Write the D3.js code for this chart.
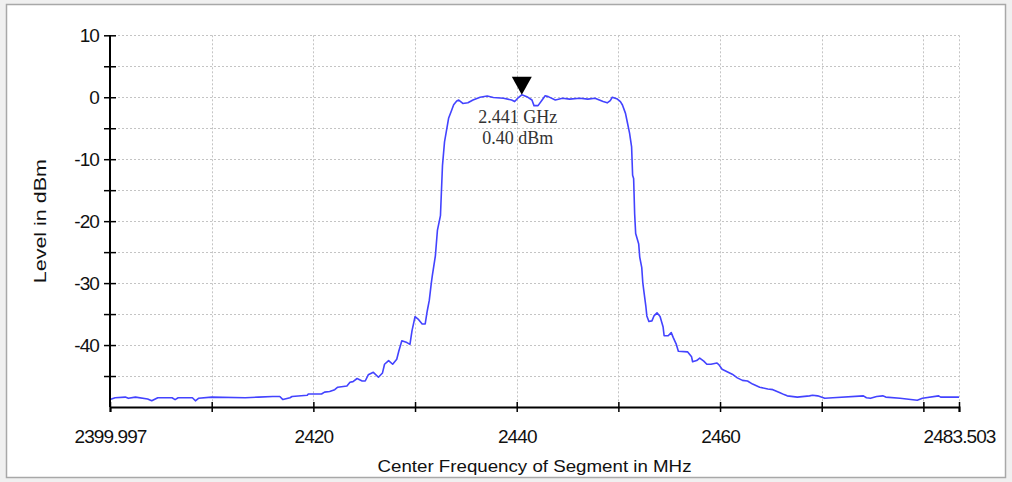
<!DOCTYPE html>
<html>
<head>
<meta charset="utf-8">
<script src="https://cdn.jsdelivr.net/npm/d3@7"></script>
<style>
  body { margin: 0; background: #f0f0f0; }
  svg { display: block; }
</style>
</head>
<body>
<svg id="chart" width="1012" height="482"></svg>
<script>
// spectrum trace (MHz, dBm)
const freqs = [
  2400.0, 2400.5, 2401.5, 2401.8, 2402.5, 2403.7, 2404.1, 2404.7, 2406.1, 2406.4,
  2406.7, 2408.1, 2408.4, 2408.7, 2410.0, 2413.3, 2414.6, 2416.0, 2416.7, 2417.0,
  2417.7, 2417.9, 2419.4, 2419.5, 2420.8, 2421.1, 2421.6, 2422.1, 2422.4, 2423.3,
  2423.6, 2423.9, 2424.3, 2424.8, 2425.1, 2425.4, 2425.9, 2426.4, 2426.8, 2427.0,
  2427.4, 2427.8, 2428.2, 2428.4, 2428.7, 2429.2, 2429.5, 2429.7, 2430.0, 2430.3,
  2430.7, 2431.0, 2431.2, 2431.4, 2431.6, 2431.7, 2432.0, 2432.2, 2432.5, 2432.6,
  2432.7, 2432.9, 2433.1, 2433.3, 2433.6, 2433.8, 2434.1, 2434.3, 2434.7, 2435.2,
  2435.7, 2436.4, 2437.1, 2437.7, 2438.7, 2439.5, 2439.8, 2440.1, 2440.5, 2441.0,
  2441.5, 2441.7, 2442.1, 2442.5, 2442.8, 2443.1, 2443.8, 2444.5, 2445.2, 2446.2,
  2447.0, 2447.7, 2448.5, 2448.9, 2449.2, 2449.4, 2449.9, 2450.2, 2450.4, 2450.7,
  2450.9, 2451.1, 2451.3, 2451.4, 2451.5, 2451.6, 2451.7, 2452.0, 2452.1, 2452.3,
  2452.4, 2452.5, 2452.7, 2452.8, 2453.0, 2453.3, 2453.5, 2453.8, 2454.1, 2454.4,
  2454.5, 2454.9, 2455.2, 2455.4, 2455.7, 2455.9, 2456.8, 2457.2, 2457.3, 2457.7,
  2458.0, 2458.4, 2458.7, 2459.1, 2459.7, 2459.9, 2460.2, 2460.7, 2461.2, 2461.7,
  2462.2, 2462.7, 2463.2, 2463.9, 2464.7, 2465.2, 2465.9, 2466.3, 2466.6, 2467.6,
  2468.8, 2469.1, 2469.6, 2470.3, 2471.1, 2474.1, 2474.4, 2474.8, 2475.4, 2476.0,
  2476.3, 2477.7, 2479.4, 2479.9, 2481.5, 2481.7, 2483.5
];
const levels = [
  -48.8, -48.5, -48.4, -48.6, -48.4, -48.7, -49.0, -48.5, -48.5, -48.8,
  -48.5, -48.5, -49.0, -48.6, -48.4, -48.5, -48.4, -48.3, -48.3, -48.8,
  -48.5, -48.3, -48.1, -47.9, -47.9, -47.6, -47.5, -47.2, -46.8, -46.6,
  -46.0, -45.9, -45.4, -45.8, -45.8, -44.8, -44.4, -45.2, -44.5, -43.1,
  -42.5, -43.1, -42.3, -41.0, -39.3, -39.6, -39.9, -37.7, -35.4, -35.8,
  -36.6, -36.6, -34.5, -32.8, -30.0, -28.8, -25.6, -21.5, -19.1, -15.0,
  -11.0, -7.2, -5.3, -3.4, -2.1, -1.2, -0.6, -0.45, -1.0, -0.9,
  -0.45, 0.0, 0.2, -0.05, -0.15, -0.45, -0.7, -0.15, 0.4, 0.1,
  -0.45, -1.35, -1.35, -0.45, 0.25, 0.1, -0.45, -0.15, -0.3, -0.15,
  -0.3, -0.15, -0.7, -0.9, -0.55, 0.0, -0.3, -0.7, -1.25, -2.6,
  -4.2, -5.8, -8.0, -12.6, -13.1, -18.8, -22.0, -23.7, -25.8, -27.5,
  -29.9, -31.2, -33.7, -35.3, -36.2, -36.1, -35.3, -34.8, -35.4, -37.1,
  -38.5, -38.5, -38.0, -38.8, -39.9, -41.0, -41.1, -41.9, -42.7, -42.5,
  -42.1, -42.6, -43.1, -43.1, -42.9, -43.2, -43.9, -44.3, -44.7, -45.3,
  -45.7, -45.8, -46.3, -46.8, -47.1, -47.2, -47.7, -48.0, -48.2, -48.4,
  -48.2, -48.1, -48.2, -48.6, -48.5, -48.2, -48.5, -48.6, -48.3, -48.2,
  -48.4, -48.6, -48.9, -48.6, -48.2, -48.4, -48.4
];

// axis ticks
const xStart = 2399.997, xEnd = 2483.503;
const xTicks = [xStart, 2410, 2420, 2430, 2440, 2450, 2460, 2470, 2480, xEnd];
const xLabels = [xStart, 2420, 2440, 2460, xEnd];
const yTicks = [-45, -40, -35, -30, -25, -20, -15, -10, -5, 0, 5, 10];
const yLabels = [-40, -30, -20, -10, 0, 10];

// marker
const markerFreq = 2440.5, markerLevel = 0.40;
const markerText = ["2.441 GHz", "0.40 dBm"];

const svg = d3.select("#chart");
const sans = "Liberation Sans, Arial, sans-serif";

// outer frame
svg.append("rect")
  .attr("x", 6.5).attr("y", 4.5)
  .attr("width", 999).attr("height", 473)
  .attr("fill", "white")
  .attr("stroke", "#a8a8a8")
  .attr("stroke-width", 1.5);

const x = d3.scaleLinear().domain([xStart, xEnd]).range([110, 959]);
const y = d3.scaleLinear().domain([-50, 10]).range([407, 35.3]);

// grid
const grid = svg.append("g").attr("stroke", "#c4c4c4").attr("stroke-dasharray", "2,2").attr("stroke-width", 1);
grid.selectAll(".hg").data(yTicks).join("line")
  .attr("x1", x.range()[0]).attr("x2", x.range()[1])
  .attr("y1", d => Math.round(y(d)) + 0.5).attr("y2", d => Math.round(y(d)) + 0.5);
grid.selectAll(".vg").data(xTicks.slice(1)).join("line")
  .attr("x1", d => Math.round(x(d)) + 0.5).attr("x2", d => Math.round(x(d)) + 0.5)
  .attr("y1", y(10)).attr("y2", y(-50));

// trace
const data = freqs.map((f, i) => ({ f: f, v: levels[i] }));
const line = d3.line().x(d => x(d.f)).y(d => y(d.v));
svg.append("path")
  .datum(data)
  .attr("fill", "none")
  .attr("stroke", "#4343ff")
  .attr("stroke-width", 1.6)
  .attr("stroke-linejoin", "round")
  .attr("d", line);

// axes
const fmtX = d => (xLabels.includes(d) ? (d % 1 ? d3.format(".3f")(d) : d) : "");
const xAxis = svg.append("g")
  .attr("transform", `translate(0,${y(-50)})`)
  .call(d3.axisBottom(x).tickValues(xTicks).tickSizeOuter(0).tickSize(5).tickFormat(fmtX));
xAxis.selectAll(".tick line").attr("y1", -5).attr("y2", 5).attr("stroke-width", 1.5);
xAxis.select(".domain").attr("stroke-width", 2);
xAxis.selectAll("text")
  .attr("y", 23)
  .style("font-family", sans)
  .style("font-size", "19px")
  .style("letter-spacing", "-0.9px")
  .attr("fill", "#111");

const yAxis = svg.append("g")
  .attr("transform", `translate(${x(xStart)},0)`)
  .call(d3.axisLeft(y).tickValues(yTicks).tickSizeOuter(0).tickSize(5).tickFormat(d => (yLabels.includes(d) ? d : "")));
yAxis.selectAll(".tick line").attr("x1", -6).attr("x2", 6).attr("stroke-width", 1.5);
yAxis.select(".domain").attr("stroke-width", 2).attr("d", `M0,${y(10)}V${y(-50)}`);
yAxis.selectAll("text")
  .attr("x", -11)
  .style("font-family", sans)
  .style("font-size", "19px")
  .style("letter-spacing", "-0.9px")
  .attr("fill", "#111");

// axis titles
svg.append("text")
  .attr("x", (x.range()[0] + x.range()[1]) / 2)
  .attr("y", 472)
  .attr("text-anchor", "middle")
  .attr("textLength", 314)
  .attr("lengthAdjust", "spacingAndGlyphs")
  .style("font-family", sans)
  .style("font-size", "17px")
  .attr("fill", "#111")
  .text("Center Frequency of Segment in MHz");

svg.append("text")
  .attr("transform", `translate(46,${(y(10) + y(-50)) / 2}) rotate(-90)`)
  .attr("text-anchor", "middle")
  .attr("textLength", 124)
  .attr("lengthAdjust", "spacingAndGlyphs")
  .style("font-family", sans)
  .style("font-size", "17px")
  .attr("fill", "#111")
  .text("Level in dBm");

// marker triangle
const mx = x(markerFreq), my = y(markerLevel);
svg.append("path")
  .attr("d", `M${mx},${my}L${mx - 10},${my - 18}L${mx + 10},${my - 18}Z`)
  .attr("fill", "black");

svg.selectAll(".mtext").data(markerText).join("text")
  .attr("x", mx - 4)
  .attr("y", (d, i) => 123 + i * 21)
  .attr("text-anchor", "middle")
  .style("font-family", "Liberation Serif, DejaVu Serif, serif")
  .style("font-size", "18px")
  .attr("fill", "#333")
  .text(d => d);
</script>
</body>
</html>
